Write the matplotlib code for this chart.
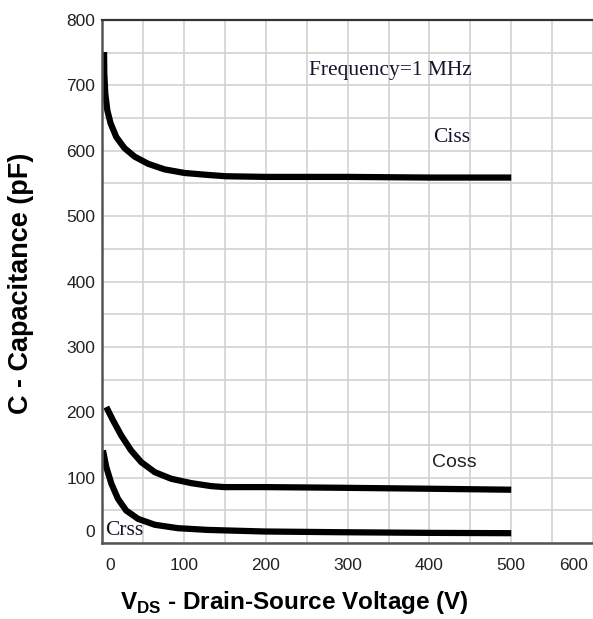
import matplotlib
matplotlib.use("Agg")
import matplotlib.pyplot as plt
from matplotlib.transforms import offset_copy

# --------------------------------------------------
# Data
# --------------------------------------------------

vds_ciss = [2, 2.3, 3.5, 6, 10, 17, 27, 39.4, 56, 76, 100.5, 129, 151,
            200, 300, 400, 500]
ciss = [751, 718, 688, 662, 642, 621, 604, 591, 580, 571.5, 566, 563, 561,
        560, 560, 559, 559]

vds_coss = [4.8, 13, 23, 35, 47.5, 64, 84, 108.5, 133, 149, 198, 290, 400, 500]
coss = [208, 187.6, 164.6, 141.7, 123.7, 108.4, 98.3, 91.6, 87, 85.5, 85.5,
        84.5, 83, 81.5]

vds_crss = [0.7, 4.8, 11, 19, 29, 43.5, 64, 92, 129, 198, 290, 400, 500]
crss = [141.7, 116, 90.7, 67.7, 49.8, 37, 27.9, 22.7, 20, 17.6, 16.5, 15.5, 15]

x_ticks = [0, 100, 200, 300, 400, 500, 600]
y_ticks = [0, 100, 200, 300, 400, 500, 600, 700, 800]

# --------------------------------------------------
# Figure
# --------------------------------------------------

plt.rcParams["mathtext.fontset"] = "custom"
plt.rcParams["mathtext.rm"] = "Liberation Sans:bold"
plt.rcParams["mathtext.bf"] = "Liberation Sans:bold"

fig = plt.figure(figsize=(5.93, 6.19), dpi=100)
ax = fig.add_axes([102.4 / 593, 1 - 543 / 619, (593 - 102.4) / 593, (543 - 20) / 619])

ax.set_xlim(0, 600)
ax.set_ylim(0, 800)

# grid every 50
ax.set_xticks(range(0, 601, 50), minor=True)
ax.set_yticks(range(0, 801, 50), minor=True)
ax.grid(which="both", color="#d2d2d2", linewidth=1.2)
ax.set_axisbelow(True)

ax.set_xticks(x_ticks)
ax.set_yticks(y_ticks)
ax.set_xticklabels([str(t) for t in x_ticks])
ax.set_yticklabels([str(t) for t in y_ticks])
ax.tick_params(which="both", length=0)
ax.tick_params(axis="x", pad=11)
ax.tick_params(axis="y", pad=5)

sans = ["Liberation Sans", "DejaVu Sans"]
for lab in ax.get_xticklabels() + ax.get_yticklabels():
    lab.set_fontfamily(sans)
    lab.set_fontsize(12.5)
    lab.set_color("#222222")

# nudge the corner labels inward like the original
xl = ax.get_xticklabels()
xl[0].set_transform(offset_copy(xl[0].get_transform(), fig=fig, x=8, y=0, units="dots"))
xl[-1].set_transform(offset_copy(xl[-1].get_transform(), fig=fig, x=-19, y=0, units="dots"))
yl = ax.get_yticklabels()
yl[0].set_transform(offset_copy(yl[0].get_transform(), fig=fig, x=0, y=12, units="dots"))

ax.spines["right"].set_visible(False)
ax.spines["top"].set_color("#333333")
ax.spines["top"].set_linewidth(1.6)
for side in ["left", "bottom"]:
    ax.spines[side].set_color("#555555")
    ax.spines[side].set_linewidth(1.8)

# curves
for v, c in [(vds_ciss, ciss), (vds_coss, coss), (vds_crss, crss)]:
    ax.plot(v, c, color="black", linewidth=4.5, solid_capstyle="butt",
            solid_joinstyle="round")

serif = ["Liberation Serif", "DejaVu Serif"]
ax.text(352, 723, "Frequency=1 MHz", family=serif, fontsize=15.5,
        color="#14142c", ha="center", va="center")
ax.text(427, 621, "Ciss", family=serif, fontsize=15.5,
        color="#14142c", ha="center", va="center")
ax.text(27, 19, "Crss", family=serif, fontsize=15.5,
        color="#14142c", ha="center", va="center")
ax.text(430, 123, "Coss", family=sans, fontsize=14,
        color="#222222", ha="center", va="center")

fig.text(294 / 593, 1 - 602 / 619,
         r"V$_{\mathbf{DS}}$ - Drain-Source Voltage (V)",
         family=sans, fontweight="bold",
         fontsize=17.5, ha="center", va="center")
fig.text(21 / 593, 1 - 283 / 619, "C - Capacitance (pF)",
         family=sans, fontweight="bold",
         fontsize=19.5, rotation=90, ha="center", va="center")

fig.savefig("out.png", dpi=100)
